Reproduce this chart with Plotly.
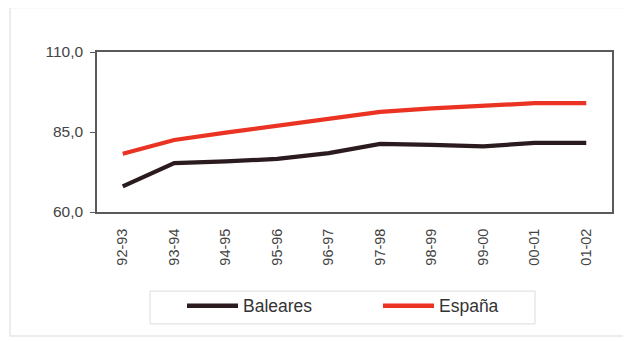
import plotly.graph_objects as go

categories = ["92-93", "93-94", "94-95", "95-96", "96-97", "97-98", "98-99", "99-00", "00-01", "01-02"]
baleares = [68.0, 75.3, 75.8, 76.6, 78.4, 81.3, 81.0, 80.5, 81.6, 81.6]
espana = [78.2, 82.5, 84.8, 86.9, 89.0, 91.3, 92.4, 93.1, 94.0, 94.0]
series_names = ["Baleares", "España"]
series_colors = ["#2b1a1e", "#ea3323"]
y_ticks = [60.0, 85.0, 110.0]

# figure size (page body adds an 8px margin)
W, H = 623, 333
ML, MR, MT, MB = 89, 19, 43.7, 128.5
pw, ph = W - ML - MR, H - MT - MB


def px_x(p):
    return (p - ML) / pw


def px_y(p):
    return (H - MB - p) / ph


fig = go.Figure()
for name, vals, col in zip(series_names, [baleares, espana], series_colors):
    fig.add_trace(go.Scatter(x=categories, y=vals, mode="lines", name=name,
                             line=dict(color=col, width=4.2), showlegend=False))

font = "Liberation Sans, Arial, sans-serif"
fig.update_layout(
    width=W, height=H,
    margin=dict(l=ML, r=MR, t=MT, b=MB, autoexpand=False),
    paper_bgcolor="white", plot_bgcolor="white",
    separators=",.",
    font=dict(family=font, color="#444", size=15),
    showlegend=False,
    xaxis=dict(type="category", range=[-0.5, 9.5], showgrid=False, zeroline=False,
               showline=True, linecolor="#5a5a5a", linewidth=1.6, mirror=True,
               tickangle=-90, tickfont=dict(size=14.5, color="#444"), ticks="",
               ticklabelstandoff=9),
    yaxis=dict(range=[60, 110], tickvals=y_ticks, tickformat=".1f", showgrid=False,
               zeroline=False, showline=True, linecolor="#5a5a5a", linewidth=1.6, mirror=True,
               ticks="outside", ticklen=5, tickcolor="#5a5a5a", ticklabelstandoff=4,
               tickfont=dict(size=15.5, color="#444")),
)

# light outer frame of the figure
fig.add_shape(type="rect", xref="paper", yref="paper",
              x0=px_x(2), x1=px_x(640), y0=px_y(329), y1=px_y(-1),
              line=dict(color="#e6e6e6", width=1.5), layer="below")

# legend box
fig.add_shape(type="rect", xref="paper", yref="paper",
              x0=px_x(142), x1=px_x(527), y0=px_y(317), y1=px_y(284),
              line=dict(color="#dcdcdc", width=1), layer="below")

leg_y = 298.7
line_starts = [179, 375]
for name, col, x0 in zip(series_names, series_colors, line_starts):
    fig.add_shape(type="line", xref="paper", yref="paper",
                  x0=px_x(x0), x1=px_x(x0 + 51), y0=px_y(leg_y), y1=px_y(leg_y),
                  line=dict(color=col, width=4.5))
    fig.add_annotation(xref="paper", yref="paper", x=px_x(x0 + 54), y=px_y(leg_y),
                       text=name, showarrow=False, xanchor="left", yanchor="middle",
                       font=dict(size=17.5, color="#333", family=font))

fig.write_html("out.html")
